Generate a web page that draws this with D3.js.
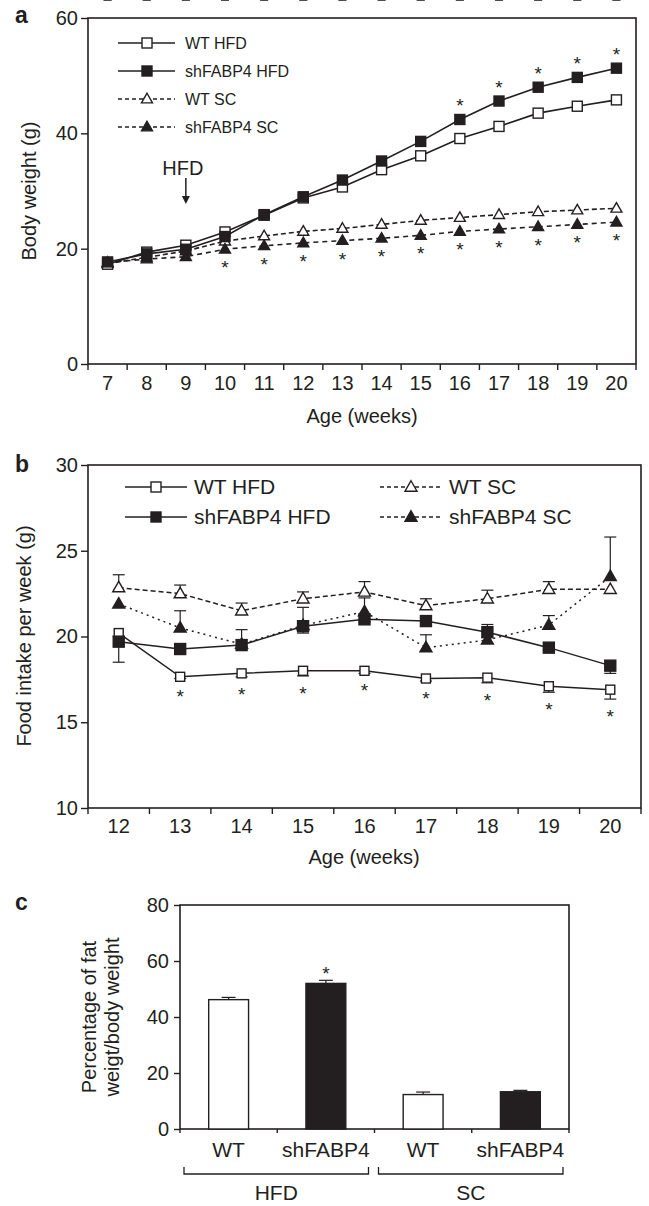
<!DOCTYPE html>
<html><head><meta charset="utf-8">
<script src="https://cdn.jsdelivr.net/npm/d3@7"></script>
<style>
body{margin:0;background:#fff}
svg{display:block;font-family:"Liberation Sans",Arial,sans-serif}
</style></head><body>
<svg id="fig" width="649" height="1206"></svg>
<script>
// ---- panel a: body weight ----
var weeksA = [7, 8, 9, 10, 11, 12, 13, 14, 15, 16, 17, 18, 19, 20]
var wtHfdA = [17.3, 19.4, 20.6, 22.9, 25.8, 28.8, 30.7, 33.7, 36.1, 39.1, 41.2, 43.5, 44.7, 45.8]
var shHfdA = [17.7, 19.1, 19.9, 22.1, 25.9, 29.0, 31.9, 35.2, 38.6, 42.4, 45.6, 48.0, 49.7, 51.3]
var wtScA  = [17.4, 18.5, 19.6, 21.3, 22.2, 23.0, 23.5, 24.2, 24.9, 25.4, 25.9, 26.4, 26.7, 27.0]
var shScA  = [17.6, 18.2, 18.6, 19.9, 20.5, 21.0, 21.4, 21.8, 22.3, 23.0, 23.4, 23.8, 24.2, 24.6]
var wtHfdAErr = [0.5, 0.6, 0.7, 0.8, 0.6, 0.7, 0.8, 0.8, 0.9, 0.9, 0.8, 0.7, 0.7, 0.7]
var shHfdAErr = [0.5, 0.6, 0.6, 0.8, 0.7, 0.7, 0.8, 0.8, 0.8, 0.9, 0.9, 0.8, 0.8, 0.8]
var wtScAErr  = [0.4, 0.5, 0.5, 0.6, 0.7, 0.7, 0.7, 0.7, 0.7, 0.7, 0.7, 0.7, 0.7, 0.7]
var shScAErr  = [0.4, 0.5, 0.5, 0.6, 0.6, 0.6, 0.6, 0.6, 0.6, 0.6, 0.6, 0.6, 0.6, 0.6]
var shHfdAStar = [0, 0, 0, 0, 0, 0, 0, 0, 0, 1, 1, 1, 1, 1]
var shScAStar  = [0, 0, 0, 1, 1, 1, 1, 1, 1, 1, 1, 1, 1, 1]

// ---- panel b: food intake ----
var weeksB = [12, 13, 14, 15, 16, 17, 18, 19, 20]
var wtHfdB = [20.2, 17.65, 17.85, 18.0, 18.0, 17.55, 17.6, 17.1, 16.9]
var shHfdB = [19.7, 19.27, 19.5, 20.6, 21.0, 20.9, 20.25, 19.35, 18.3]
var wtScB  = [22.85, 22.5, 21.5, 22.2, 22.6, 21.8, 22.2, 22.75, 22.75]
var shScB  = [21.9, 20.5, 19.55, 20.65, 21.45, 19.35, 19.8, 20.67, 23.5]
var wtHfdBUp = [0, 0, 0, 0, 0, 0, 0, 0, 0]
var wtHfdBDown = [0.2, 0.1, 0.2, 0.3, 0.15, 0.15, 0.3, 0.35, 0.55]
var shHfdBUp = [0, 0, 0, 1.1, 0, 0, 0.45, 0, 0]
var shHfdBDown = [1.2, 0.15, 0, 0.4, 0.15, 0.3, 0, 0.15, 0.45]
var wtScBUp = [0.75, 0.5, 0.45, 0.4, 0.6, 0.4, 0.5, 0.45, 0]
var shScBUp = [0, 1.0, 0.85, 0, 0.8, 0.75, 0, 0.55, 2.3]
var wtHfdBStar = [0, 1, 1, 1, 1, 1, 1, 1, 1]

// ---- panel c: fat percentage ----
var fatBars = ['WT', 'shFABP4', 'WT', 'shFABP4']
var fatGroups = ['HFD', 'SC']
var fatPct = [46.2, 52.0, 12.3, 13.3]
var fatErr = [0.8, 1.1, 0.9, 0.5]
var fatStar = [0, 1, 0, 0]

var INK = '#231f20'
var svg = d3.select('#fig')

d3.selection.prototype.at = function(o){ for (var k in o) this.attr(k.replace(/[A-Z]/g, m => '-' + m.toLowerCase()), o[k]); return this }

function marker(g, shape, filled, x, y, s){
  if (shape == 'square'){
    g.append('rect').at({x: x - s/2, y: y - s/2, width: s, height: s,
      fill: filled ? INK : '#fff', stroke: INK, strokeWidth: 1.4})
  } else {
    var h = s*0.87
    g.append('path').attr('d', 'M' + x + ',' + (y - h*0.6) + 'L' + (x + s/2) + ',' + (y + h*0.4) + 'L' + (x - s/2) + ',' + (y + h*0.4) + 'Z')
      .at({fill: filled ? INK : '#fff', stroke: INK, strokeWidth: 1.4})
  }
}

function star(g, x, cy){
  g.append('text').at({x: x, y: cy + 10, textAnchor: 'middle', fontSize: 19, fill: INK}).text('*')
}

function errBar(g, x, y1, y2, cap){
  g.append('line').at({x1: x, x2: x, y1: y1, y2: y2})
  g.append('line').at({x1: x - cap, x2: x + cap, y1: y2, y2: y2})
}

function frame(g, x0, x1, y0, y1){
  g.append('rect').at({x: x0, y: y0, width: x1 - x0, height: y1 - y0, fill: 'none', stroke: INK, strokeWidth: 1.6})
}

function styleAxis(ax, fs){
  ax.select('.domain').remove()
  ax.selectAll('line').attr('stroke', INK).attr('stroke-width', 1.4)
  ax.selectAll('text').attr('font-size', fs).attr('fill', INK).attr('font-family', null)
}

// tick marks on the band edges, labels stay in the band centres
function bandTicks(g, x, y0, len){
  var xs = x.domain().map(d => x(d)).concat([x.range()[1]])
  g.selectAll(null).data(xs).enter().append('line')
    .at({x1: d => d, x2: d => d, y1: y0, y2: y0 + len, stroke: INK, strokeWidth: 1.4})
}

// ================= panel a =================
var xA = d3.scaleBand().domain(weeksA).range([88, 636])
var yA = d3.scaleLinear().domain([0, 60]).range([364, 18])
var ga = svg.append('g')
var cxA = d => xA(d) + xA.bandwidth()/2

frame(ga, 88, 636, 18, 364)
styleAxis(ga.append('g').attr('transform', 'translate(88,0)')
  .call(d3.axisLeft(yA).tickValues([0, 20, 40, 60]).tickSize(7).tickPadding(3)), 20)
styleAxis(ga.append('g').attr('transform', 'translate(0,364)')
  .call(d3.axisBottom(xA).tickSize(0).tickPadding(12)), 20)
bandTicks(ga, xA, 364, 6)

ga.append('text').at({x: 362, y: 423, textAnchor: 'middle', fontSize: 20, fill: INK}).text('Age (weeks)')
ga.append('text').at({transform: 'translate(36,191) rotate(-90)', textAnchor: 'middle', fontSize: 20, fill: INK}).text('Body weight (g)')
ga.append('text').at({x: 15, y: 23, fontSize: 23, fontWeight: 'bold', fill: INK}).text('a')

var seriesA = [
  {vals: wtScA, err: wtScAErr, shape: 'tri', filled: false, dash: '5,3'},
  {vals: shScA, err: shScAErr, shape: 'tri', filled: true, dash: '5,4'},
  {vals: wtHfdA, err: wtHfdAErr, shape: 'square', filled: false, dash: null},
  {vals: shHfdA, err: shHfdAErr, shape: 'square', filled: true, dash: null}
]
var lineA = d3.line().x((d, i) => cxA(weeksA[i])).y(d => yA(d))
seriesA.forEach(s => {
  ga.append('path').attr('d', lineA(s.vals)).at({fill: 'none', stroke: INK, strokeWidth: 1.6, strokeDasharray: s.dash})
})
seriesA.forEach(s => {
  s.vals.forEach((v, i) => {
    var x = cxA(weeksA[i])
    marker(ga, s.shape, s.filled, x, yA(v), s.shape == 'square' ? 10 : 11)
    if (!s.filled){
      var eg = ga.append('g').attr('stroke', INK).attr('stroke-width', 1.1)
      errBar(eg, x, yA(v - s.err), yA(v + s.err), 4)
    }
  })
})
shHfdA.forEach((v, i) => { if (shHfdAStar[i]) star(ga, cxA(weeksA[i]), yA(v) - 17) })
shScA.forEach((v, i) => { if (shScAStar[i]) star(ga, cxA(weeksA[i]), yA(v) + 15) })

// HFD arrow
var hfdX = cxA(9)
ga.append('text').at({x: hfdX - 3, y: 175, textAnchor: 'middle', fontSize: 20, fill: INK}).text('HFD')
ga.append('line').at({x1: hfdX, x2: hfdX, y1: 178, y2: 200, stroke: INK, strokeWidth: 1.5})
ga.append('path').at({d: 'M' + (hfdX - 4) + ',196L' + (hfdX + 4) + ',196L' + hfdX + ',204Z', fill: INK})

// legend a
var legA = [
  {label: 'WT HFD', shape: 'square', filled: false, dash: null},
  {label: 'shFABP4 HFD', shape: 'square', filled: true, dash: null},
  {label: 'WT SC', shape: 'tri', filled: false, dash: '4,3'},
  {label: 'shFABP4 SC', shape: 'tri', filled: true, dash: '4,3'}
]
legA.forEach((d, i) => {
  var y = 43 + i*28
  ga.append('line').at({x1: 118, x2: 175, y1: y, y2: y, stroke: INK, strokeWidth: 1.3, strokeDasharray: d.dash})
  marker(ga, d.shape, d.filled, 147, y, d.shape == 'square' ? 10 : 11)
  ga.append('text').at({x: 185, y: y + 6, fontSize: 16, fill: INK}).text(d.label)
})

// ================= panel b =================
var xB = d3.scaleBand().domain(weeksB).range([88, 641])
var yB = d3.scaleLinear().domain([10, 30]).range([808, 465])
var gb = svg.append('g')
var cxB = d => xB(d) + xB.bandwidth()/2

frame(gb, 88, 641, 465, 808)
styleAxis(gb.append('g').attr('transform', 'translate(88,0)')
  .call(d3.axisLeft(yB).tickValues([10, 15, 20, 25, 30]).tickSize(7).tickPadding(3)), 20)
styleAxis(gb.append('g').attr('transform', 'translate(0,808)')
  .call(d3.axisBottom(xB).tickSize(0).tickPadding(11)), 20)
bandTicks(gb, xB, 808, 6)

gb.append('text').at({x: 364, y: 864, textAnchor: 'middle', fontSize: 20, fill: INK}).text('Age (weeks)')
gb.append('text').at({transform: 'translate(31,636) rotate(-90)', textAnchor: 'middle', fontSize: 20, fill: INK}).text('Food intake per week (g)')
gb.append('text').at({x: 15, y: 472, fontSize: 23, fontWeight: 'bold', fill: INK}).text('b')

var seriesB = [
  {vals: wtScB, up: wtScBUp, down: null, shape: 'tri', filled: false, dash: '5,3'},
  {vals: shScB, up: shScBUp, down: null, shape: 'tri', filled: true, dash: '2,4'},
  {vals: wtHfdB, up: wtHfdBUp, down: wtHfdBDown, shape: 'square', filled: false, dash: null},
  {vals: shHfdB, up: shHfdBUp, down: shHfdBDown, shape: 'square', filled: true, dash: null}
]
var lineB = d3.line().x((d, i) => cxB(weeksB[i])).y(d => yB(d))
seriesB.forEach(s => {
  gb.append('path').attr('d', lineB(s.vals)).at({fill: 'none', stroke: INK, strokeWidth: 1.5, strokeDasharray: s.dash})
})
seriesB.forEach(s => {
  s.vals.forEach((v, i) => {
    var x = cxB(weeksB[i])
    var eg = gb.append('g').attr('stroke', INK).attr('stroke-width', 1.2)
    if (s.up && s.up[i]) errBar(eg, x, yB(v), yB(v + s.up[i]), 6)
    if (s.down && s.down[i]) errBar(eg, x, yB(v), yB(v - s.down[i]), 6)
    marker(gb, s.shape, s.filled, x, yB(v), s.shape == 'square' ? (s.filled ? 11 : 9) : 12)
  })
})
wtHfdB.forEach((v, i) => { if (wtHfdBStar[i]) star(gb, cxB(weeksB[i]), yB(v - wtHfdBDown[i]) + 14) })

// legend b
var legB = [
  {label: 'WT HFD', shape: 'square', filled: false, dash: null, x: 125, y: 487},
  {label: 'shFABP4 HFD', shape: 'square', filled: true, dash: null, x: 125, y: 517},
  {label: 'WT SC', shape: 'tri', filled: false, dash: '4,3', x: 380, y: 487},
  {label: 'shFABP4 SC', shape: 'tri', filled: true, dash: '4,3', x: 380, y: 517}
]
legB.forEach(d => {
  gb.append('line').at({x1: d.x, x2: d.x + 62, y1: d.y, y2: d.y, stroke: INK, strokeWidth: 1.3, strokeDasharray: d.dash})
  marker(gb, d.shape, d.filled, d.x + 31, d.y, d.shape == 'square' ? 10 : 12)
  gb.append('text').at({x: d.x + 69, y: d.y + 7, fontSize: 21, fill: INK}).text(d.label)
})

// ================= panel c =================
var xC = d3.scaleBand().domain(d3.range(fatBars.length)).range([180, 569])
var yC = d3.scaleLinear().domain([0, 80]).range([1129, 905])
var gc = svg.append('g')
var bw = xC.bandwidth()*0.41

frame(gc, 180, 569, 905, 1129)
styleAxis(gc.append('g').attr('transform', 'translate(180,0)')
  .call(d3.axisLeft(yC).tickValues([0, 20, 40, 60, 80]).tickSize(6).tickPadding(5)), 20)
bandTicks(gc, xC, 1129, 4)

fatPct.forEach((v, i) => {
  var cx = xC(i) + xC.bandwidth()/2
  var eg = gc.append('g').attr('stroke', INK).attr('stroke-width', 1.2)
  errBar(eg, cx, yC(v), yC(v + fatErr[i]), 7)
  gc.append('rect').at({x: cx - bw/2, y: yC(v), width: bw, height: yC(0) - yC(v),
    fill: i % 2 ? INK : '#fff', stroke: INK, strokeWidth: 1.4})
  if (fatStar[i]) star(gc, cx, yC(v + fatErr[i]) - 10)
  gc.append('text').at({x: cx, y: 1157, textAnchor: 'middle', fontSize: 21, fill: INK}).text(fatBars[i])
})

// group brackets
fatGroups.forEach((grp, k) => {
  var x0 = xC(k*2) + 4, x1 = xC(k*2 + 1) + xC.bandwidth() - 6
  gc.append('path').at({d: 'M' + x0 + ',1167V1174H' + x1 + 'V1167', fill: 'none', stroke: INK, strokeWidth: 1.3})
  gc.append('text').at({x: (x0 + x1)/2, y: 1200, textAnchor: 'middle', fontSize: 21, fill: INK}).text(grp)
})

var yt = gc.append('text').at({transform: 'translate(107,1017) rotate(-90)', textAnchor: 'middle', fontSize: 20, fill: INK})
yt.append('tspan').at({x: 0, dy: '-0.55em'}).text('Percentage of fat')
yt.append('tspan').at({x: 0, dy: '1.15em'}).text('weigt/body weight')
gc.append('text').at({x: 15, y: 910, fontSize: 23, fontWeight: 'bold', fill: INK}).text('c')
</script>
</body></html>
